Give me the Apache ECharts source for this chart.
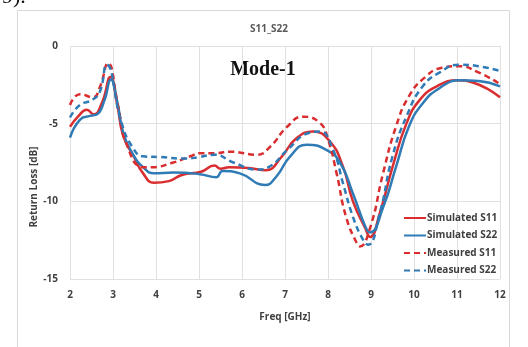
<!DOCTYPE html>
<html>
<head>
<meta charset="utf-8">
<script src="https://cdn.jsdelivr.net/npm/echarts@6/dist/echarts.min.js"></script>
<style>html,body{margin:0;padding:0;background:#fff;}#c{width:528px;height:347px;}</style>
</head>
<body>
<div id="c"></div>
<script>
const xTicks = [2,3,4,5,6,7,8,9,10,11,12];
const yTicks = [0,-5,-10,-15];

const simS11F = [2,2.2,2.39,2.55,2.75,2.94,3.1,3.24,3.48,3.7,3.95,4.3,4.6,5.05,5.36,5.5,5.7,6.15,6.55,6.93,7.24,7.65,8.03,8.34,8.58,8.86,8.98,9.2,9.5,9.83,10.14,10.53,11,11.37,12];
const simS11V = [-5.2,-4.5,-4.1,-4.4,-3.6,-2.0,-3.8,-5.8,-7.1,-8.2,-8.8,-8.7,-8.3,-8.1,-7.7,-7.9,-7.8,-7.85,-8.0,-7.1,-6.0,-5.5,-6.1,-7.7,-10.0,-11.7,-12.3,-10.8,-7.8,-4.95,-3.45,-2.6,-2.2,-2.35,-3.3];

const simS22F = [2,2.23,2.47,2.63,2.8,2.95,3.1,3.24,3.45,3.7,3.95,4.4,5.02,5.4,5.55,5.95,6.53,6.8,7.12,7.5,7.97,8.28,8.58,8.88,8.98,9.28,9.58,9.88,10.2,10.6,11.07,11.5,12];
const simS22V = [-5.9,-4.75,-4.5,-4.4,-3.5,-2.15,-3.6,-5.6,-6.9,-7.8,-8.2,-8.15,-8.25,-8.45,-8.05,-8.2,-8.95,-8.4,-7.1,-6.35,-6.7,-7.5,-9.5,-11.7,-12.0,-10.4,-7.8,-5.2,-3.7,-2.7,-2.2,-2.25,-2.6];

const measS11F = [2,2.23,2.53,2.7,2.88,3.12,3.3,3.7,3.9,4.4,4.8,5.02,5.36,5.72,6.35,6.65,7.05,7.42,7.81,8.0,8.2,8.42,8.67,8.74,8.98,9.28,9.58,9.88,10.26,10.65,11.05,11.5,12];
const measS11V = [-3.8,-3.1,-3.3,-2.6,-1.1,-3.9,-6.2,-7.8,-7.8,-7.5,-7.1,-6.9,-6.9,-6.8,-7.0,-6.5,-5.2,-4.55,-4.95,-6.0,-8.2,-11.0,-12.7,-12.9,-11.7,-8.2,-5.2,-3.25,-2.0,-1.4,-1.3,-1.7,-2.45];

const measS22F = [2,2.23,2.53,2.7,2.85,3.2,3.45,3.7,4.1,4.7,5.0,5.36,5.8,6.35,6.65,7.05,7.55,7.81,8.12,8.35,8.58,8.82,8.93,9.2,9.5,9.83,10.2,10.6,11.05,11.5,12];
const measS22V = [-4.6,-3.8,-3.45,-2.9,-1.2,-4.95,-6.5,-7.1,-7.15,-7.25,-7.15,-7.0,-7.5,-7.95,-7.75,-6.7,-5.6,-5.5,-6.7,-8.85,-11.0,-12.5,-12.8,-10.8,-7.1,-4.5,-2.6,-1.7,-1.2,-1.3,-1.6];

const seriesNames = ['Simulated S11','Simulated S22','Measured S11','Measured S22'];
const RED = '#d92d2f', BLUE = '#2f7bb6';

function pairs(f, v){ return f.map((x,i)=>[x, v[i]]); }

const chart = echarts.init(document.getElementById('c'), null, {renderer:'canvas'});
const txt = '#404040';
const font = '"Open Sans", "Liberation Sans", sans-serif';

function mk(name, f, v, color, dashed){
  return {
    name, type:'line', data: pairs(f,v), smooth:0.5, symbol:'none',
    lineStyle:{color, width:2.5, type: dashed ? [6,4] : 'solid'},
    itemStyle:{color}, z: dashed ? 3 : 2
  };
}

chart.setOption({
  animation:false,
  backgroundColor:'#fff',
  title:{text:'S11_S22', left:264, top:19, textAlign:'center',
    textStyle:{fontFamily:font, fontSize:10, fontWeight:'bold', color:'#595959'}},
  graphic:[
    {type:'rect', shape:{x:17.5,y:10.5,width:492,height:345}, style:{fill:'none', stroke:'#d9d9d9', lineWidth:1}, z:-1},
    {type:'text', x:263, y:70, style:{text:'Mode-1', textAlign:'center', textVerticalAlign:'middle', font:'bold 20px "Liberation Serif", serif', fill:'#111'}},
    {type:'text', x:2, y:-14, style:{text:'9).', font:'22px "Liberation Serif", serif', fill:'#111'}},
    {type:'text', x:34, y:187, rotation:Math.PI/2, style:{text:'Return Loss [dB]', textAlign:'center', textVerticalAlign:'middle', font:'bold 10px "Open Sans", sans-serif', fill:txt}}
  ],
  legend:{
    data: seriesNames, orient:'vertical', left:398, top:208,
    itemWidth:22, itemHeight:10, itemGap:7.5,
    itemStyle:{color:'transparent', borderWidth:0, opacity:0},
    textStyle:{fontFamily:font, fontSize:10, fontWeight:'bold', color:txt, padding:[0,0,0,-4]}
  },
  grid:{left:70, right:28, top:46, bottom:68, containLabel:false},
  xAxis:{
    type:'value', min:2, max:12, interval:1,
    name:'Freq [GHz]', nameLocation:'middle', nameGap:33,
    nameTextStyle:{fontFamily:font, fontSize:10, fontWeight:'bold', color:txt},
    axisLine:{show:false}, axisTick:{show:false},
    axisLabel:{fontFamily:font, fontSize:10, fontWeight:'bold', color:txt, margin:11,
      formatter:(v)=> xTicks.includes(v) ? String(v) : ''},
    splitLine:{show:true, lineStyle:{color:'#e0e0e0', width:1}}
  },
  yAxis:{
    type:'value', min:-15, max:0, interval:5,
    axisLine:{show:false}, axisTick:{show:false},
    axisLabel:{fontFamily:font, fontSize:10, fontWeight:'bold', color:txt, margin:12,
      formatter:(v)=> yTicks.includes(v) ? String(v) : ''},
    splitLine:{show:true, lineStyle:{color:'#e0e0e0', width:1}}
  },
  series:[
    mk(seriesNames[0], simS11F, simS11V, RED, false),
    mk(seriesNames[1], simS22F, simS22V, BLUE, false),
    mk(seriesNames[2], measS11F, measS11V, RED, true),
    mk(seriesNames[3], measS22F, measS22V, BLUE, true)
  ]
});
</script>
</body>
</html>
